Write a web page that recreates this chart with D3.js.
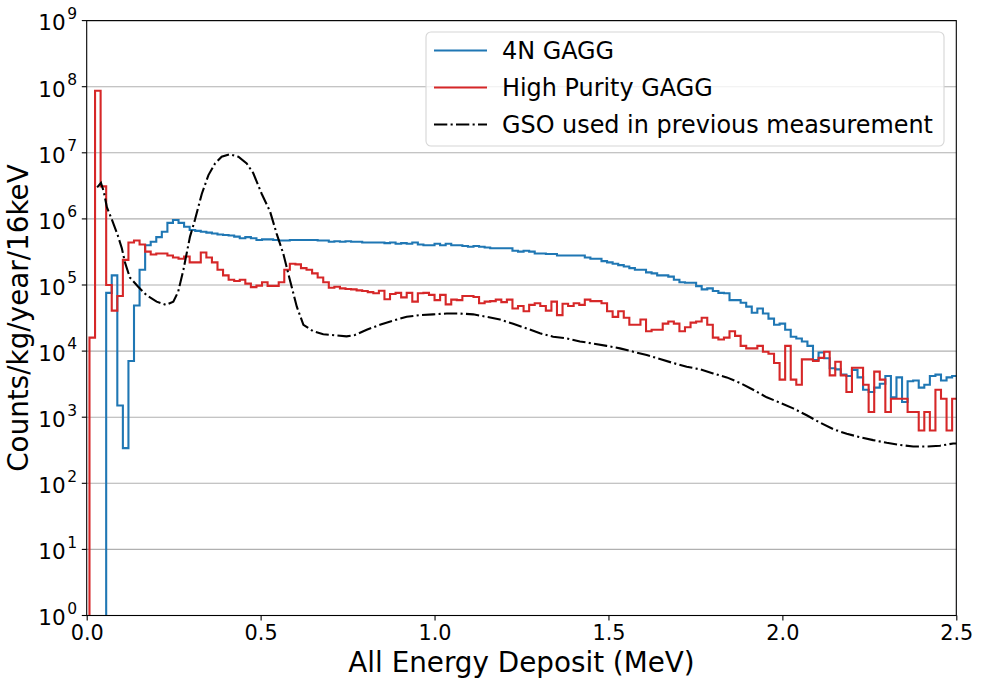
<!DOCTYPE html>
<html>
<head>
<meta charset="utf-8">
<script src="https://cdn.jsdelivr.net/npm/d3@7"></script>
<style>
  body { margin: 0; background: #fff; }
  text { font-family: "DejaVu Sans", sans-serif; fill: #000; }
</style>
</head>
<body>
<svg width="981" height="683"></svg>
<script>
/**
 * Data (counts / kg / year / 16 keV)
 */
// histogram binning of the two GAGG spectra (MeV)
var binStart = 0.008;
var binWidth = 0.016;

var gagg4N = [
    0, 0, 0, 7.6e4, 1.4e5, 1.5e3, 3.4e2, 7.1e3, 4.9e4, 1.7e5,
    4.0e5, 4.5e5, 5.3e5, 6.4e5, 8.7e5, 9.6e5, 8.7e5, 7.6e5, 6.8e5, 6.6e5,
    6.4e5, 6.2e5, 6.0e5, 5.8e5, 5.7e5, 5.6e5, 5.4e5, 5.1e5, 5.3e5, 5.1e5,
    4.8e5, 4.9e5, 4.9e5, 4.8e5, 4.7e5, 4.7e5, 4.8e5, 4.8e5, 4.8e5, 4.8e5,
    4.8e5, 4.7e5, 4.7e5, 4.5e5, 4.6e5, 4.5e5, 4.6e5, 4.5e5, 4.5e5, 4.4e5,
    4.4e5, 4.4e5, 4.4e5, 4.3e5, 4.4e5, 4.2e5, 4.3e5, 4.2e5, 4.4e5, 4.1e5,
    4.0e5, 4.0e5, 4.2e5, 4.0e5, 4.2e5, 4.0e5, 4.0e5, 3.9e5, 3.8e5, 3.9e5,
    3.8e5, 3.7e5, 3.6e5, 3.6e5, 3.6e5, 3.6e5, 3.3e5, 3.2e5, 3.3e5, 3.2e5,
    3.0e5, 3.0e5, 2.95e5, 2.95e5, 2.8e5, 2.8e5, 2.8e5, 2.8e5, 2.8e5, 2.6e5,
    2.5e5, 2.5e5, 2.3e5, 2.2e5, 2.1e5, 2.0e5, 1.9e5, 1.8e5, 1.7e5, 1.7e5,
    1.55e5, 1.5e5, 1.4e5, 1.4e5, 1.34e5, 1.2e5, 1.1e5, 1.08e5, 1.08e5, 9.6e4,
    8.6e4, 8.9e4, 8.1e4, 7.6e4, 7.5e4, 5.9e4, 5.9e4, 5.4e4, 4.7e4, 3.8e4,
    4.4e4, 3.7e4, 3.1e4, 2.5e4, 2.6e4, 2.1e4, 1.65e4, 1.55e4, 1.4e4, 1.2e4,
    7.3e3, 9.5e3, 7.8e3, 5.5e3, 5.3e3, 4.4e3, 4.2e3, 5.2e3, 4.0e3, 2.6e3,
    2.4e3, 2.8e3, 3.2e3, 4.2e3, 2.0e3, 4.0e3, 1.7e3, 3.5e3, 3.6e3, 2.8e3,
    3.1e3, 4.2e3, 4.4e3, 3.6e3, 4.0e3, 4.2e3
];

var gaggHighPurity = [
    1.6e4, 8.7e7, 3.1e6, 1.0e5, 4.1e4, 6.8e4, 2.4e5, 4.4e5, 4.7e5, 4.1e5,
    3.2e5, 2.9e5, 3.0e5, 3.0e5, 2.8e5, 2.6e5, 2.5e5, 2.7e5, 2.2e5, 2.2e5,
    3.1e5, 2.6e5, 2.2e5, 1.7e5, 1.4e5, 1.2e5, 1.15e5, 1.2e5, 1.05e5, 9.3e4,
    9.8e4, 1.1e5, 9.7e4, 9.7e4, 1.1e5, 1.7e5, 2.1e5, 2.05e5, 1.8e5, 1.7e5,
    1.5e5, 1.3e5, 1.1e5, 9.1e4, 9.4e4, 8.9e4, 8.7e4, 8.6e4, 8.3e4, 8.1e4,
    7.8e4, 7.5e4, 8.2e4, 6.1e4, 7.3e4, 7.6e4, 6.5e4, 7.6e4, 5.6e4, 7.5e4,
    7.6e4, 7.1e4, 5.9e4, 7.1e4, 5.1e4, 6.0e4, 5.9e4, 6.8e4, 6.8e4, 6.6e4,
    5.3e4, 5.6e4, 5.7e4, 6.0e4, 5.5e4, 6.0e4, 4.4e4, 4.8e4, 4.0e4, 5.0e4,
    5.3e4, 4.8e4, 4.1e4, 5.6e4, 3.5e4, 5.2e4, 4.8e4, 5.3e4, 5.0e4, 6.0e4,
    5.7e4, 5.7e4, 5.3e4, 4.0e4, 3.3e4, 4.0e4, 3.2e4, 2.5e4, 2.5e4, 3.0e4,
    2.0e4, 2.1e4, 2.1e4, 2.6e4, 2.8e4, 2.6e4, 2.0e4, 2.3e4, 2.7e4, 2.8e4,
    3.2e4, 2.5e4, 1.6e4, 1.5e4, 1.6e4, 2.0e4, 1.7e4, 1.2e4, 1.1e4, 1.1e4,
    1.2e4, 9.8e3, 9.1e3, 6.6e3, 3.7e3, 1.2e4, 3.7e3, 3.1e3, 7.5e3, 7.5e3,
    7.1e3, 7.9e3, 9.8e3, 4.3e3, 6.9e3, 4.3e3, 2.4e3, 5.6e3, 5.6e3, 3.1e3,
    1.2e3, 4.9e3, 3.7e3, 1.2e3, 1.9e3, 1.9e3, 1.9e3, 1.2e3, 1.2e3, 6.3e2,
    1.2e3, 6.3e2, 2.6e3, 1.9e3, 6.3e2, 1.9e3
];

// GSO spectrum is drawn as a line through points
var gsoEnergy = [
    0.030, 0.041, 0.049, 0.058, 0.073, 0.089, 0.101, 0.110, 0.124, 0.148,
    0.172, 0.201, 0.228, 0.249, 0.263, 0.278, 0.297, 0.311, 0.331, 0.350,
    0.369, 0.388, 0.412, 0.436, 0.460, 0.479, 0.503, 0.527, 0.546, 0.565,
    0.584, 0.604, 0.623, 0.651, 0.680, 0.747, 0.771, 0.805, 0.843, 0.881,
    0.920, 0.958, 0.996, 1.035, 1.073, 1.111, 1.150, 1.188, 1.226, 1.265,
    1.303, 1.341, 1.380, 1.418, 1.456, 1.495, 1.533, 1.571, 1.610, 1.648,
    1.686, 1.725, 1.763, 1.801, 1.840, 1.878, 1.916, 1.955, 1.993, 2.031,
    2.070, 2.108, 2.146, 2.185, 2.223, 2.261, 2.300, 2.338, 2.376, 2.415,
    2.453, 2.491, 2.505
];
var gsoCounts = [
    3.0e6, 3.5e6, 2.6e6, 1.5e6, 9.6e5, 5.7e5, 3.6e5, 2.2e5, 1.3e5, 9.4e4,
    7.0e4, 5.6e4, 5.0e4, 5.6e4, 7.9e4, 1.7e5, 5.4e5, 9.6e5, 2.4e6, 4.6e6,
    6.9e6, 8.7e6, 9.5e6, 8.7e6, 6.9e6, 4.9e6, 2.4e6, 1.3e6, 6.0e5, 3.0e5,
    1.2e5, 4.7e4, 2.5e4, 2.0e4, 1.8e4, 1.67e4, 1.75e4, 2.1e4, 2.5e4, 2.9e4,
    3.3e4, 3.5e4, 3.6e4, 3.7e4, 3.7e4, 3.6e4, 3.3e4, 3.0e4, 2.6e4, 2.2e4,
    1.86e4, 1.65e4, 1.56e4, 1.4e4, 1.3e4, 1.2e4, 1.1e4, 9.8e3, 8.7e3, 7.6e3,
    6.6e3, 5.8e3, 5.3e3, 4.6e3, 4.0e3, 3.3e3, 2.6e3, 2.0e3, 1.66e3, 1.36e3,
    1.07e3, 8.3e2, 6.6e2, 5.6e2, 5.0e2, 4.5e2, 4.1e2, 3.8e2, 3.6e2, 3.6e2,
    3.7e2, 4.0e2, 4.0e2
];

var seriesNames = ['4N GAGG', 'High Purity GAGG', 'GSO used in previous measurement'];
var xTicks = [0, 0.5, 1.0, 1.5, 2.0, 2.5];
var yTickExponents = [0, 1, 2, 3, 4, 5, 6, 7, 8, 9];

/**
 * Layout
 */
var svg = d3.select('svg');
var svgWidth = +svg.attr('width');
var svgHeight = +svg.attr('height');
var padding = {t: 20.6, r: 24.7, b: 67.5, l: 86.7};
var chartWidth = svgWidth - padding.l - padding.r;
var chartHeight = svgHeight - padding.t - padding.b;

var colors = {blue: '#1f77b4', red: '#d62728', black: '#000000'};

var xScale = d3.scaleLinear().domain([0, 2.5]).range([0, chartWidth]);
var yScale = d3.scaleLog().domain([1, 1e9]).range([chartHeight, 0]);

// zero counts fall below the axis (clipped)
function yPos(v) {
    return v > 0 ? yScale(v) : chartHeight + 20;
}

var chartG = svg.append('g')
    .attr('transform', 'translate(' + [padding.l, padding.t] + ')');

chartG.append('clipPath').attr('id', 'plotClip')
    .append('rect').attr('width', chartWidth).attr('height', chartHeight);

// horizontal grid at each decade
chartG.append('g').selectAll('line')
    .data(yTickExponents)
    .enter().append('line')
    .attr('x1', 0).attr('x2', chartWidth)
    .attr('y1', function(d) { return yScale(Math.pow(10, d)); })
    .attr('y2', function(d) { return yScale(Math.pow(10, d)); })
    .attr('stroke', '#b0b0b0')
    .attr('stroke-width', 1.1);

/**
 * Step histogram path, matplotlib histtype='step'
 */
function stepPoints(values) {
    var pts = [[binStart, 0]];
    values.forEach(function(v, i) {
        var x0 = binStart + i * binWidth;
        pts.push([x0, v]);
        pts.push([x0 + binWidth, v]);
    });
    pts.push([binStart + values.length * binWidth, 0]);
    return pts;
}

var stepLine = d3.line()
    .x(function(d) { return xScale(d[0]); })
    .y(function(d) { return yPos(d[1]); });

var linesG = chartG.append('g').attr('clip-path', 'url(#plotClip)');

linesG.append('path')
    .attr('d', stepLine(stepPoints(gagg4N)))
    .attr('fill', 'none')
    .attr('stroke', colors.blue)
    .attr('stroke-width', 2.1)
    .attr('stroke-linejoin', 'miter');

linesG.append('path')
    .attr('d', stepLine(stepPoints(gaggHighPurity)))
    .attr('fill', 'none')
    .attr('stroke', colors.red)
    .attr('stroke-width', 2.1)
    .attr('stroke-linejoin', 'miter');

var gsoLine = d3.line()
    .x(function(d, i) { return xScale(gsoEnergy[i]); })
    .y(function(d) { return yScale(d); });

var dashDot = '13.3,3.3,2.1,3.3';

linesG.append('path')
    .attr('d', gsoLine(gsoCounts))
    .attr('fill', 'none')
    .attr('stroke', colors.black)
    .attr('stroke-width', 2.1)
    .attr('stroke-dasharray', dashDot);

/**
 * Axes
 */
var xAxis = d3.axisBottom(xScale)
    .tickValues(xTicks)
    .tickSize(4.9)
    .tickPadding(4.9)
    .tickFormat(d3.format('.1f'));

var xAxisG = chartG.append('g')
    .attr('transform', 'translate(0,' + chartHeight + ')')
    .call(xAxis);
xAxisG.select('.domain').remove();
xAxisG.selectAll('line').attr('stroke', '#000').attr('stroke-width', 1.1);
xAxisG.selectAll('text')
    .attr('font-size', 20.8)
    .attr('font-family', 'DejaVu Sans')
    .attr('fill', '#000');

// y ticks with 10^n labels
var yTickG = chartG.append('g').selectAll('g')
    .data(yTickExponents)
    .enter().append('g')
    .attr('transform', function(d) {
        return 'translate(0,' + yScale(Math.pow(10, d)) + ')';
    });

yTickG.append('line')
    .attr('x1', -4.9).attr('x2', 0)
    .attr('stroke', '#000').attr('stroke-width', 1.1);

var yLabel = yTickG.append('text')
    .attr('x', -9.6)
    .attr('y', 9.8)
    .attr('text-anchor', 'end')
    .attr('font-size', 21.5);
yLabel.append('tspan').text('10');
yLabel.append('tspan')
    .attr('dx', 1.5)
    .attr('dy', -11.5)
    .attr('font-size', 15.5)
    .text(function(d) { return d; });

// frame
chartG.append('rect')
    .attr('width', chartWidth).attr('height', chartHeight)
    .attr('fill', 'none')
    .attr('stroke', '#000')
    .attr('stroke-width', 1.1);

// axis titles
svg.append('text')
    .attr('x', padding.l + chartWidth / 2)
    .attr('y', 672)
    .attr('text-anchor', 'middle')
    .attr('font-size', 27.8)
    .text('All Energy Deposit (MeV)');

svg.append('text')
    .attr('transform', 'translate(28,' + (padding.t + chartHeight / 2) + ') rotate(-90)')
    .attr('text-anchor', 'middle')
    .attr('font-size', 27.8)
    .text('Counts/kg/year/16keV');

/**
 * Legend
 */
var legend = [
    {name: seriesNames[0], color: colors.blue, dash: null},
    {name: seriesNames[1], color: colors.red, dash: null},
    {name: seriesNames[2], color: colors.black, dash: dashDot}
];

var legendG = svg.append('g')
    .attr('transform', 'translate(426,32)');

legendG.append('rect')
    .attr('width', 518).attr('height', 114)
    .attr('rx', 5).attr('ry', 5)
    .attr('fill', '#fff').attr('fill-opacity', 0.8)
    .attr('stroke', '#d6d6d6').attr('stroke-width', 1.1);

var entries = legendG.selectAll('.entry')
    .data(legend)
    .enter().append('g')
    .attr('class', 'entry')
    .attr('transform', function(d, i) {
        return 'translate(0,' + (18.5 + i * 37) + ')';
    });

entries.append('line')
    .attr('x1', 8).attr('x2', 61)
    .attr('stroke', function(d) { return d.color; })
    .attr('stroke-width', 2.1)
    .attr('stroke-dasharray', function(d) { return d.dash; });

entries.append('text')
    .attr('x', 76)
    .attr('y', 8.7)
    .attr('font-size', 23.9)
    .text(function(d) { return d.name; });
</script>
</body>
</html>
